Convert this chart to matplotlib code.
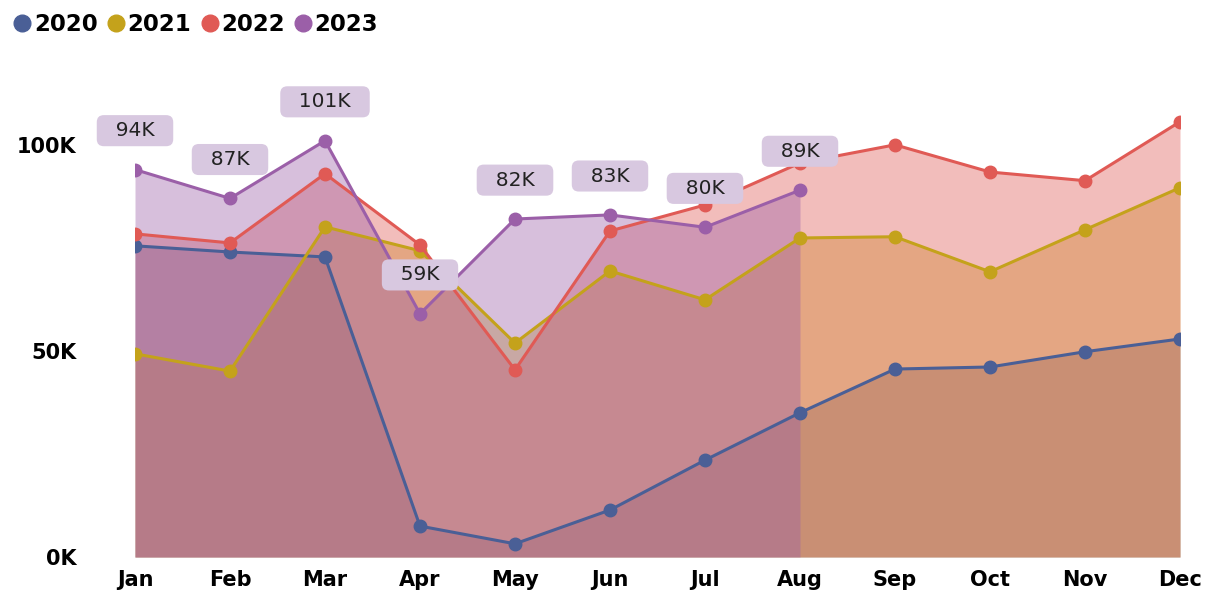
import matplotlib
matplotlib.use("Agg")
import matplotlib.pyplot as plt
from matplotlib.lines import Line2D

months = ["Jan", "Feb", "Mar", "Apr", "May", "Jun", "Jul", "Aug", "Sep", "Oct", "Nov", "Dec"]
y2020 = [75.5, 74.0, 72.8, 7.5, 3.2, 11.4, 23.5, 35.0, 45.6, 46.1, 49.8, 52.9]
y2021 = [49.3, 45.1, 80.1, 74.3, 51.9, 69.4, 62.4, 77.4, 77.7, 69.2, 79.4, 89.6]
y2022 = [78.4, 76.2, 93.0, 75.7, 45.4, 79.1, 85.4, 95.6, 100.0, 93.4, 91.3, 105.6]
y2023 = [94, 87, 101, 59, 82, 83, 80, 89]
years = ["2020", "2021", "2022", "2023"]
colors = ["#4A5F96", "#C4A21B", "#E05A55", "#9B5FA8"]
series = [y2020, y2021, y2022, y2023]
yticks = [0, 50, 100]
ytick_labels = ["0K", "50K", "100K"]

plt.rcParams['font.family'] = ['DejaVu Sans']
fig = plt.figure(figsize=(12.05, 5.97), dpi=100)
ax = fig.add_axes([135/1205, 1-557/597, (1180-135)/1205, (557-83)/597])

for vals, c in zip(series, colors):
    x = list(range(len(vals)))
    ax.fill_between(x, 0, vals, color=c, alpha=0.4, linewidth=0)
for vals, c in zip(series, colors):
    x = list(range(len(vals)))
    ax.plot(x, vals, color=c, linewidth=2.2, marker="o", markersize=9, zorder=3)

for i, v in enumerate(y2023):
    ax.annotate(f"  {v}K  ", (i, v), xytext=(0, 28), textcoords="offset points",
                ha="center", va="center", fontsize=14.5, color="#222222", zorder=5,
                bbox=dict(boxstyle="round,pad=0.3,rounding_size=0.35", fc="#D8C8E0", ec="none"))

ax.set_xlim(0, 11)
ax.set_ylim(0, 115)
ax.set_xticks(range(12))
ax.set_xticklabels(months, fontsize=15, fontweight="bold")
ax.set_yticks(yticks)
ax.set_yticklabels(ytick_labels, fontsize=15, fontweight="bold")
ax.tick_params(axis="y", length=0, pad=42)
ax.tick_params(axis="x", length=0, pad=9)
for s in ax.spines.values():
    s.set_visible(False)

handles = [Line2D([], [], linestyle="none", marker="o", markersize=12, color=c) for c in colors]
fig.legend(handles, years, loc="upper left", bbox_to_anchor=(-0.008, 1.012), ncol=4, frameon=False,
           prop=dict(weight="bold", size=16.5), handletextpad=0.0, columnspacing=0.3, handlelength=1.0)

fig.savefig("out.png", dpi=100)
